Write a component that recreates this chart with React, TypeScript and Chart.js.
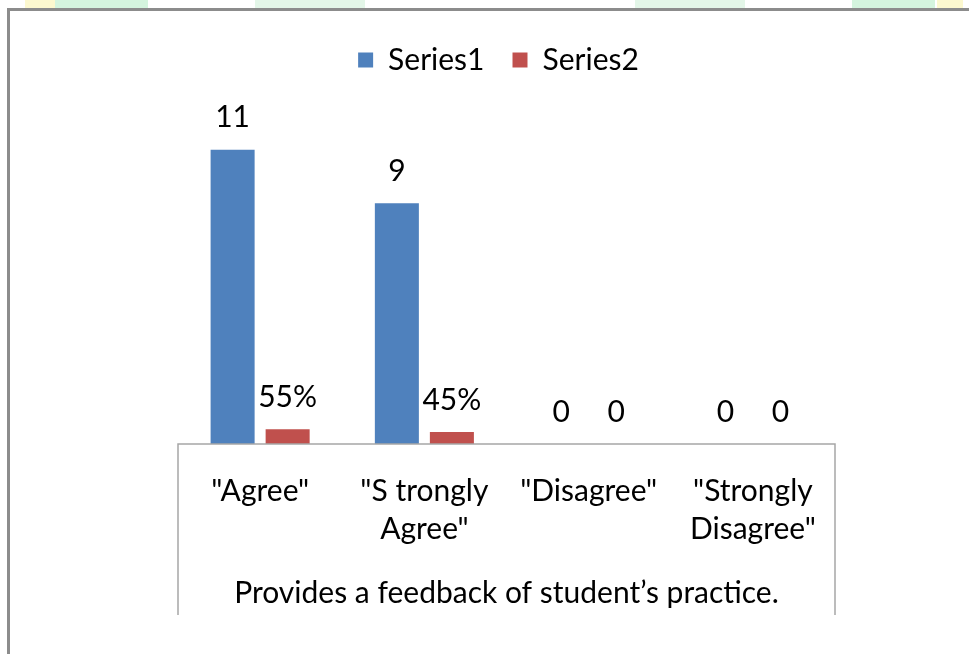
import React, { useEffect, useRef } from "react";
import { Chart, registerables } from "chart.js";

Chart.register(...registerables);

// Response categories (x axis)
const categories: string[][] = [
  ['"Agree"'],
  ['"S trongly', 'Agree"'],
  ['"Disagree"'],
  ['"Strongly', 'Disagree"'],
];

// Number of respondents per response
const series1: number[] = [11, 9, 0, 0];
// Share of respondents per response
const series2: number[] = [0.55, 0.45, 0, 0];

const axisTitle = "Provides a feedback of student\u2019s practice.";

const FONT = "Lato, 'Noto Sans', sans-serif";
const BLUE = "#4F81BD";
const RED = "#C0504D";

const fmtSeries2 = (v: number) => (v === 0 ? "0" : `${Math.round(v * 100)}%`);

// Pale decorative strip above the frame plus the gray chart frame
const framePlugin = {
  id: "frame",
  beforeDraw(chart: any) {
    const { ctx, width, height } = chart;
    ctx.save();
    ctx.fillStyle = "#ffffff";
    ctx.fillRect(0, 0, width, height);
    const strips: [number, number, string][] = [
      [25, 55, "#fcf8cf"],
      [55, 148, "#d4f4de"],
      [255, 365, "#e3f6e8"],
      [635, 745, "#e3f6e8"],
      [852, 935, "#d4f4de"],
      [937, 963, "#fcf8cf"],
    ];
    for (const [x0, x1, c] of strips) {
      ctx.fillStyle = c;
      ctx.fillRect(x0, 0, x1 - x0, 8);
    }
    ctx.strokeStyle = "#8c8c8c";
    ctx.lineWidth = 3;
    ctx.beginPath();
    ctx.moveTo(7, 9.5);
    ctx.lineTo(width, 9.5);
    ctx.moveTo(8.5, 8);
    ctx.lineTo(8.5, height);
    ctx.stroke();
    ctx.restore();
  },
};

// Open box around the category labels and axis title
const categoryBoxPlugin = {
  id: "categoryBox",
  afterDraw(chart: any) {
    const { ctx, chartArea } = chart;
    const { left, right, bottom } = chartArea;
    ctx.save();
    ctx.strokeStyle = "#a6a6a6";
    ctx.lineWidth = 1.5;
    ctx.beginPath();
    ctx.moveTo(left, 615);
    ctx.lineTo(left, bottom);
    ctx.lineTo(right, bottom);
    ctx.lineTo(right, 615);
    ctx.stroke();
    ctx.restore();
  },
};

// Value labels above each bar
const valueLabelPlugin = {
  id: "valueLabels",
  afterDatasetsDraw(chart: any) {
    const { ctx } = chart;
    ctx.save();
    ctx.font = `30px ${FONT}`;
    ctx.fillStyle = "#000000";
    ctx.textAlign = "center";
    ctx.textBaseline = "middle";
    chart.data.datasets.forEach((ds: any, di: number) => {
      const meta = chart.getDatasetMeta(di);
      meta.data.forEach((el: any, i: number) => {
        const v = ds.data[i] as number;
        const text = di === 1 ? fmtSeries2(v) : String(v);
        ctx.fillText(text, el.x, el.y - 32);
      });
    });
    ctx.restore();
  },
};

export default function App() {
  const canvasRef = useRef<HTMLCanvasElement | null>(null);

  useEffect(() => {
    const canvas = canvasRef.current;
    if (!canvas) return;
    const chart = new Chart(canvas, {
      type: "bar",
      data: {
        labels: categories,
        datasets: [
          {
            label: "Series1",
            data: series1,
            backgroundColor: BLUE,
            categoryPercentage: 0.67,
            barPercentage: 0.8,
          },
          {
            label: "Series2",
            data: series2,
            backgroundColor: RED,
            categoryPercentage: 0.67,
            barPercentage: 0.8,
          },
        ],
      },
      options: {
        responsive: false,
        animation: false,
        devicePixelRatio: 1,
        layout: { padding: { left: 162, right: 134, top: 17, bottom: 0 } },
        plugins: {
          legend: {
            position: "top",
            labels: {
              boxWidth: 15,
              boxHeight: 15,
              padding: 28,
              color: "#000000",
              font: { family: FONT, size: 30 },
            },
          },
          tooltip: { enabled: false },
          title: { display: false },
        },
        scales: {
          x: {
            grid: { display: false },
            border: { display: false },
            ticks: {
              color: "#000000",
              padding: 20,
              maxRotation: 0,
              autoSkip: false,
              font: { family: FONT, size: 30, lineHeight: 1.27 },
            },
            title: {
              display: true,
              text: axisTitle,
              color: "#000000",
              padding: { top: 0, bottom: 43 },
              font: { family: FONT, size: 30, lineHeight: 1.2 },
            },
            afterFit: (scale: any) => {
              scale.height = 210;
            },
          },
          y: {
            min: 0,
            max: 13.42,
            grid: { display: false },
            border: { display: false },
            ticks: { display: false },
            afterFit: (scale: any) => {
              scale.width = 16;
            },
          },
        },
      },
      plugins: [framePlugin, categoryBoxPlugin, valueLabelPlugin],
    });
    return () => chart.destroy();
  }, []);

  return (
    <div style={{ position: "fixed", left: 0, top: 0, width: 969, height: 654, background: "#ffffff" }}>
      <canvas ref={canvasRef} width={969} height={654} style={{ display: "block" }} />
    </div>
  );
}
